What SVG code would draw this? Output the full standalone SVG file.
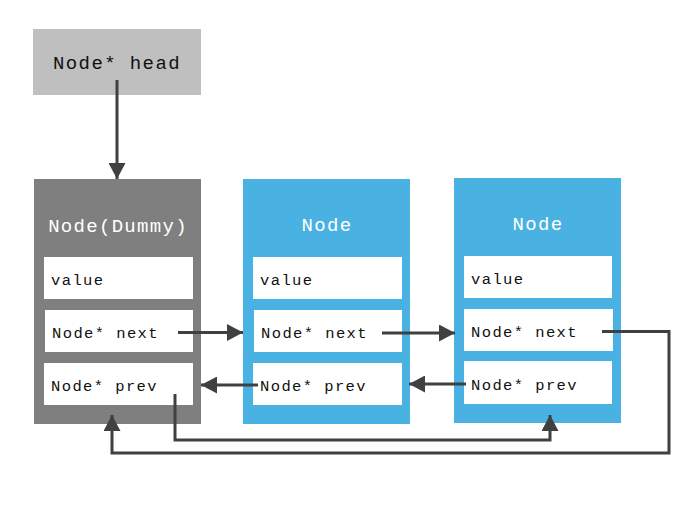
<svg xmlns="http://www.w3.org/2000/svg" width="700" height="514" viewBox="0 0 700 514">
<style>
.title{font-family:"Liberation Mono","Courier New",monospace;font-size:19px;letter-spacing:1.3px;fill:#fff;text-anchor:middle}
.head{font-family:"Liberation Mono","Courier New",monospace;font-size:19px;letter-spacing:1.4px;fill:#111;text-anchor:middle}
.f{font-family:"Liberation Mono","Courier New",monospace;font-size:15.5px;letter-spacing:1.4px;fill:#111}
.box{fill:#fff}
.ln{fill:none;stroke:#404040;stroke-width:3}
</style>
<defs>
<marker id="ah" markerWidth="16" markerHeight="17" refX="16" refY="8.5" orient="auto" markerUnits="userSpaceOnUse">
<path d="M0,0 L16,8.5 L0,17 Z" fill="#404040"/>
</marker>
</defs>
<rect width="700" height="514" fill="#fff"/>
<g id="head">
<rect x="33" y="29" width="168" height="66" fill="#bfbfbf"/>
<text class="head" x="117" y="69">Node* head</text>
</g>
<g id="dummy">
<rect x="34" y="179" width="167" height="245" fill="#7f7f7f"/>
<text class="title" x="118" y="232">Node(Dummy)</text>
<rect class="box" x="44" y="257" width="149" height="42"/>
<text class="f" x="51" y="285">value</text>
<rect class="box" x="45" y="310" width="148" height="42"/>
<text class="f" x="52" y="338">Node* next</text>
<rect class="box" x="44" y="363" width="149" height="42"/>
<text class="f" x="51" y="391">Node* prev</text>
</g>
<g id="node2">
<rect x="243" y="179" width="167" height="245" fill="#4ab1e3"/>
<text class="title" x="327" y="231">Node</text>
<rect class="box" x="253" y="257" width="149" height="42"/>
<text class="f" x="260" y="285">value</text>
<rect class="box" x="254" y="310" width="148" height="42"/>
<text class="f" x="261" y="338">Node* next</text>
<rect class="box" x="253" y="363" width="149" height="42"/>
<text class="f" x="260" y="391">Node* prev</text>
</g>
<g id="node3">
<rect x="454" y="178" width="167" height="245" fill="#4ab1e3"/>
<text class="title" x="538" y="230">Node</text>
<rect class="box" x="464" y="256" width="148" height="42"/>
<text class="f" x="471" y="284">value</text>
<rect class="box" x="464" y="309" width="149" height="42"/>
<text class="f" x="471" y="337">Node* next</text>
<rect class="box" x="464" y="361" width="148" height="43"/>
<text class="f" x="471" y="390">Node* prev</text>
</g>
<g id="connectors">
<path class="ln" d="M117,80 L117,179" marker-end="url(#ah)"/>
<path class="ln" d="M178,332.5 L243,332.5" marker-end="url(#ah)"/>
<path class="ln" d="M382,333 L455,333" marker-end="url(#ah)"/>
<path class="ln" d="M258,385 L201,385" marker-end="url(#ah)"/>
<path class="ln" d="M466,384 L409,384" marker-end="url(#ah)"/>
<path class="ln" d="M602,331.5 L669,331.5 L669,453 L112,453 L112,415" marker-end="url(#ah)"/>
<path class="ln" d="M175,394 L175,440 L550,440 L550,415" marker-end="url(#ah)"/>
</g>
</svg>
